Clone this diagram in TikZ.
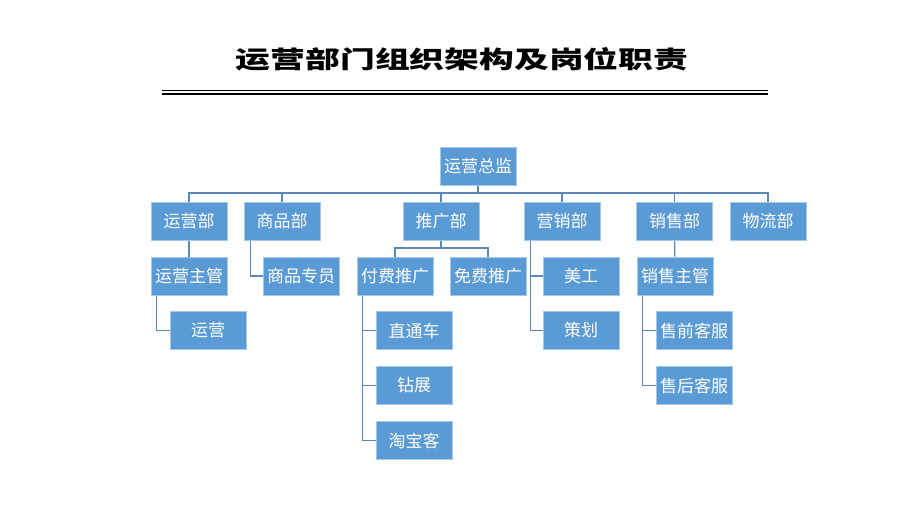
\documentclass[tikz,border=0pt]{standalone}
\usepackage{fontspec}
\usepackage{tikz}
\setmainfont{Noto Sans CJK SC}
\newfontfamily\titlecjk[FakeStretch=1.45]{Noto Sans CJK SC}
\definecolor{boxblue}{HTML}{5B9BD5}
\definecolor{linkblue}{HTML}{5A88BA}
\pgfdeclarelayer{bg}
\pgfsetlayers{bg,main}
\tikzset{
    post/.style={rectangle, fill=boxblue, draw=white!45!boxblue, line width=0.7pt,
    	minimum width=76pt, minimum height=38pt, inner sep=0pt, text=white,
    	font=\fontsize{17}{17}\selectfont},
    link/.style={draw=linkblue, line width=1.3pt}
}

\begin{document}
\begin{tikzpicture}[x=1pt, y=-1pt]
  \useasboundingbox (0,0) rectangle (920,518);

  % title and double rule
  \node (title) at (462,59) {\titlecjk\bfseries\fontsize{24}{24}\selectfont 运营部门组织架构及岗位职责};
  \draw[line width=1pt] (162,91) -- (768,91);
  \draw[line width=2.5pt] (162,94) -- (768,94);

  \node (zj) [post] at (478,166) {运营总监};

  \node (yyb) [post] at (189,221) {运营部};
  \node (spb) [post] at (282,221) {商品部};
  \node (tgb) [post] at (441,221) {推广部};
  \node (yxb) [post] at (562,221) {营销部};
  \node (xsb) [post] at (674.5,221) {销售部};
  \node (wlb) [post] at (768,221) {物流部};

  \node (yyzg) [post] at (189,276) {运营主管};
  \node (spzy) [post] at (301,276) {商品专员};
  \node (fftg) [post] at (395,276) {付费推广};
  \node (mftg) [post] at (488,276) {免费推广};
  \node (mg) [post] at (581,276) {美工};
  \node (xszg) [post] at (675,276) {销售主管};

  \node (yy) [post] at (208,330.5) {运营};
  \node (ztc) [post] at (414,330.5) {直通车};
  \node (ch) [post] at (581,330.5) {策划};
  \node (sqkf) [post] at (694,330.5) {售前客服};

  \node (zz) [post] at (414,385.5) {钻展};
  \node (shkf) [post] at (694,385.5) {售后客服};

  \node (tbk) [post] at (414,440.5) {淘宝客};

  \coordinate (bus) at (0,193);
  \coordinate (tgbus) at (0,248);

  \begin{pgfonlayer}{bg}
	  \draw[link] (zj.south) |- (yyb.north |- bus) -- (yyb.north);
	  \draw[link] (zj.south) |- (spb.north |- bus) -- (spb.north);
	  \draw[link] (zj.south) |- (tgb.north |- bus) -- (tgb.north);
	  \draw[link] (zj.south) |- (yxb.north |- bus) -- (yxb.north);
	  \draw[link] (zj.south) |- (xsb.north |- bus) -- (xsb.north);
	  \draw[link] (zj.south) |- (wlb.north |- bus) -- (wlb.north);

	  \draw[link] (yyb) -- (yyzg);
	  \draw[link] ([xshift=7pt]spb.south west) |- (spzy.west);
	  \draw[link] (tgb.south) |- (fftg.north |- tgbus) -- (fftg.north);
	  \draw[link] (tgb.south) |- (mftg.north |- tgbus) -- (mftg.north);
	  \draw[link] ([xshift=7pt]yxb.south west) |- (mg.west);
	  \draw[link] ([xshift=7pt]yxb.south west) |- (ch.west);
	  \draw[link] (xsb) -- (xszg);

	  \draw[link] ([xshift=6pt]yyzg.south west) |- (yy.west);
	  \draw[link] ([xshift=6pt]fftg.south west) |- (ztc.west);
	  \draw[link] ([xshift=6pt]fftg.south west) |- (zz.west);
	  \draw[link] ([xshift=6pt]fftg.south west) |- (tbk.west);
	  \draw[link] ([xshift=6pt]xszg.south west) |- (sqkf.west);
	  \draw[link] ([xshift=6pt]xszg.south west) |- (shkf.west);
  \end{pgfonlayer}

\end{tikzpicture}
\end{document}
